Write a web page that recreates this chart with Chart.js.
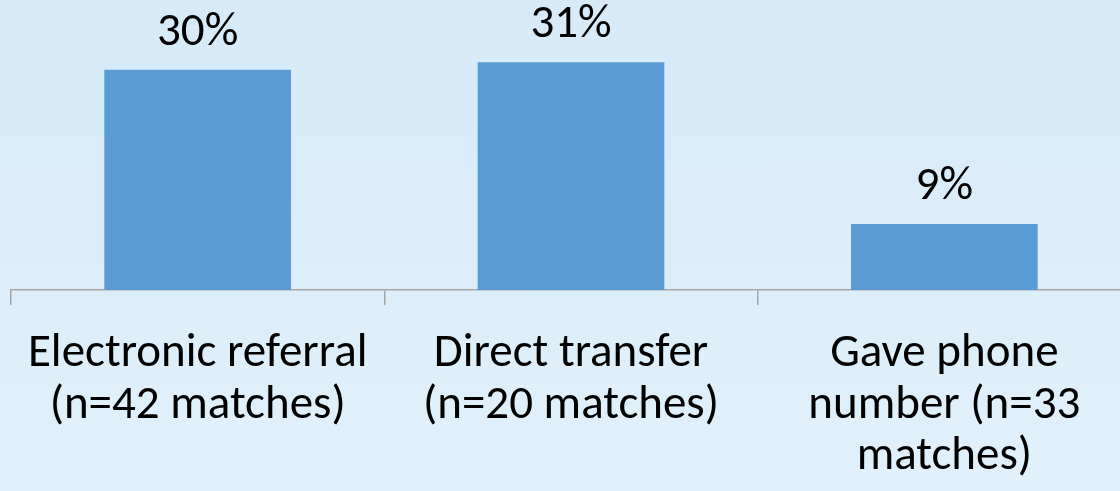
<!DOCTYPE html>
<html>
<head>
<meta charset="utf-8">
<script src="https://cdn.jsdelivr.net/npm/chart.js@4/dist/chart.umd.min.js"></script>
<style>
  html, body { margin: 0; padding: 0; overflow: hidden; }
  body {
    width: 1120px; height: 491px;
    background: linear-gradient(to bottom, #d6eaf8 0%, #e1f1fb 100%);
  }
  #wrap { width: 1142px; height: 491px; position: relative; }
</style>
</head>
<body>
<div id="wrap"><canvas id="chart"></canvas></div>
<script>
const categories = [
    ['Electronic referral', '(n=42 matches)'],
    ['Direct transfer', '(n=20 matches)'],
    ['Gave phone', 'number (n=33', 'matches)']
];
const percents = [30, 31, 9];
const valueLabels = ['30%', '31%', '9%'];

const fontFamily = "Carlito, Calibri, Lato, sans-serif";

// etiquetas encima de cada barra
const barLabels = {
    id: 'barLabels',
    afterDatasetsDraw(chart) {
        const ctx = chart.ctx;
        const meta = chart.getDatasetMeta(0);
        ctx.save();
        ctx.font = '47px ' + fontFamily;
        ctx.fillStyle = '#000';
        ctx.textAlign = 'center';
        ctx.textBaseline = 'alphabetic';
        meta.data.forEach((bar, i) => {
            ctx.fillText(valueLabels[i], bar.x, bar.y - 25);
        });
        ctx.restore();
    }
};

new Chart(document.getElementById('chart'), {
    type: 'bar',
    data: {
        labels: categories,
        datasets: [{
            data: percents,
            backgroundColor: '#5b9bd5',
            borderWidth: 0,
            barPercentage: 0.5,
            categoryPercentage: 1.0
        }]
    },
    options: {
        responsive: true,
        maintainAspectRatio: false,
        animation: false,
        layout: { padding: { left: 11, right: 11, top: 33, bottom: 0 } },
        plugins: { legend: { display: false }, tooltip: { enabled: false } },
        scales: {
            y: { display: false, min: 0, max: 35 },
            x: {
                afterFit(scale) { scale.height = 201; },
                grid: {
                    drawOnChartArea: false,
                    drawTicks: true,
                    tickLength: 15,
                    color: '#a6a6a6',
                    lineWidth: 1.5
                },
                border: { color: '#a6a6a6', width: 1.5 },
                ticks: {
                    color: '#000',
                    padding: 24,
                    maxRotation: 0,
                    autoSkip: false,
                    font: { family: fontFamily, size: 47, lineHeight: 1.09 }
                }
            }
        }
    },
    plugins: [barLabels]
});
</script>
</body>
</html>
